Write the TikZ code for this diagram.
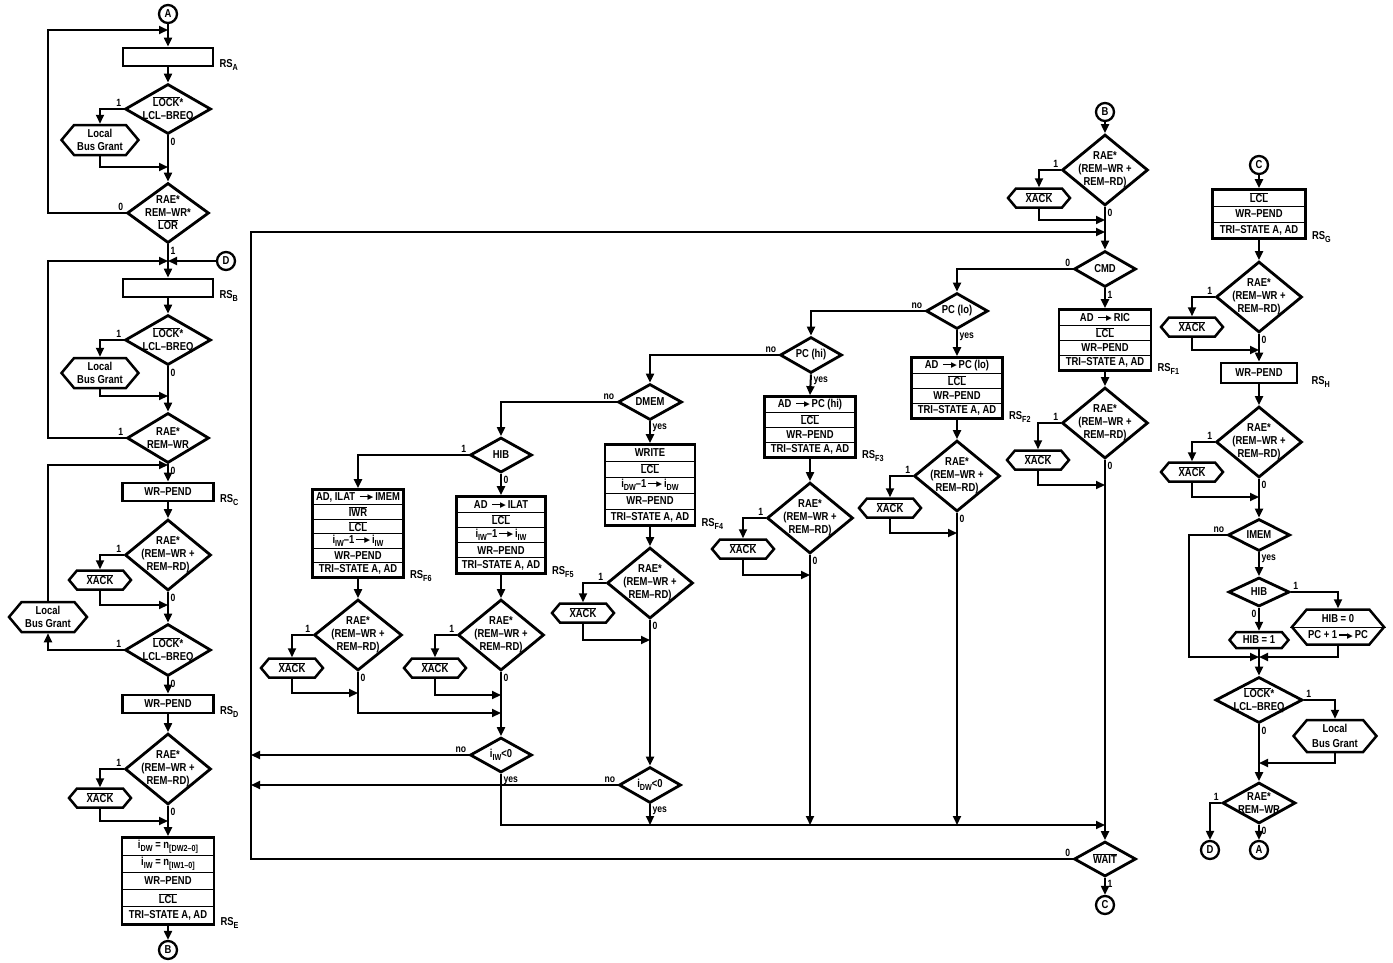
\documentclass[tikz,border=0pt]{standalone}
\usepackage{fontspec}
\setmainfont{Liberation Sans}[FakeStretch=0.82]
\newfontfamily\symfont{DejaVu Sans}
\usetikzlibrary{arrows.meta, positioning, shapes.geometric, shapes.symbols, fit}

\newcommand\ovl[1]{$\overline{\mbox{#1}}$}
\newcommand\sbs[1]{\raisebox{-2.8pt}{\fontsize{8.8}{9}\selectfont #1}}
\newcommand\goesto{\,\raisebox{3.4pt}{\rule{10pt}{1.2pt}}\kern-2pt\raisebox{0.8pt}{\symfont\fontsize{7.5}{7.5}\selectfont ▶}\,}

\begin{document}
\begin{tikzpicture}[
  x=1pt, y=-1pt,
  every node/.style = {font=\bfseries\fontsize{11.5}{13}\selectfont},
  rsbox/.style = {draw, line width=2.8pt, minimum height=18pt, inner sep=0pt},
  row/.style   = {draw, line width=0.9pt, inner sep=1pt, minimum height=#1},
  frame/.style = {draw, line width=2.8pt, inner sep=0pt},
  dec/.style   = {diamond, draw, line width=2.8pt, inner sep=0pt},
  dtxt/.style  = {align=center, inner sep=0pt},
  rae/.style   = {dec, minimum width=86pt, minimum height=71pt,
                  label={[dtxt]center:RAE*\\(REM--WR +\\REM--RD)}},
  lockd/.style = {dec, minimum width=86pt, minimum height=50pt,
                  label={[dtxt]center:\ovl{LOCK}*\\LCL--BREQ}},
  rwd/.style   = {dec, minimum width=82pt, minimum height=50pt,
                  label={[dtxt]center:RAE*\\REM--WR}},
  ask/.style   = {dec, minimum width=62pt, minimum height=36pt,
                  label={[dtxt]center:#1}},
  hexa/.style  = {signal, signal to=east and west, signal pointer angle=100,
                  draw, line width=2.5pt, inner sep=0pt, align=center},
  xack/.style  = {hexa, minimum width=62pt, minimum height=19pt},
  lbgs/.style  = {hexa, minimum width=77pt, minimum height=30pt},
  conn/.style  = {circle, draw, line width=2.3pt, minimum size=18pt, inner sep=0pt},
  arrow/.style = {-{Triangle[length=9pt, width=8pt]}, line width=2pt},
  link/.style  = {line width=2pt},
  lbl/.style   = {font=\bfseries\fontsize{10.5}{10.5}\selectfont, inner sep=1.5pt},
  rs/.style    = {anchor=base west, inner sep=0pt},
]
\useasboundingbox (0,0) rectangle (1393,962);

% left column: RS_A .. RS_E
\node[conn] (A1) at (168,14) {A};
\coordinate (j0) at (168,30);
\node[rsbox, minimum width=90pt] (rsa) at (168,57) {};
\node[rs] (rsa-l) at ([xshift=5pt]rsa.south east) {RS\sbs{A}};
\node[lockd] (lk1) at (168,109) {};
\node[lbgs] (lbg1) at (100,140) {Local\\Bus Grant};
\coordinate (j1) at (168,167);
\node[dec, minimum width=82pt, minimum height=60pt,
      label={[dtxt]center:RAE*\\REM--WR*\\\ovl{LOR}}] (rw1) at (168,213) {};
\coordinate (j2) at (168,261);
\node[conn] (D1) at (226,261) {D};
\node[rsbox, minimum width=90pt] (rsb) at (168,288) {};
\node[rs] (rsb-l) at ([xshift=5pt]rsb.south east) {RS\sbs{B}};
\node[lockd] (lk2) at (168,340) {};
\node[lbgs] (lbg2) at (100,373) {Local\\Bus Grant};
\coordinate (j3) at (168,396);
\node[rwd] (rw2) at (168,438) {};
\coordinate (j4) at (168,465);
\node[rsbox, minimum width=91pt] (rsc) at (168,492) {WR--PEND};
\node[rs] (rsc-l) at ([xshift=5pt]rsc.south east) {RS\sbs{C}};
\node[rae] (rc) at (168,555) {};
\node[xack] (xc) at (100,580) {\ovl{XACK}};
\coordinate (j5) at (168,605);
\node[lockd, minimum height=52pt] (lk3) at (168,650) {};
\node[lbgs, minimum width=78pt] (lbg3) at (48,617) {Local\\Bus Grant};
\node[rsbox, minimum width=91pt] (rsd) at (168,704) {WR--PEND};
\node[rs] (rsd-l) at ([xshift=5pt]rsd.south east) {RS\sbs{D}};
\node[rae] (rd) at (168,769) {};
\node[xack] (xd) at (100,798) {\ovl{XACK}};
\coordinate (j6) at (168,821);
\foreach \t [count=\i] in {i\sbs{DW} = n\sbs{[DW2--0]}, i\sbs{IW} = n\sbs{[IW1--0]},
    WR--PEND, \ovl{LCL}, {TRI--STATE A, AD}}
  \node[row=17.2pt, minimum width=91pt] (e\i) at (168,829.4+17.2*\i) {\t};
\node[frame, fit=(e1)(e5)] (rse) {};
\node[rs] (rse-l) at ([xshift=5pt]rse.south east) {RS\sbs{E}};
\node[conn] (B1) at (168,950) {B};

\draw[arrow] (A1) -- (rsa);
\draw[arrow] (rsa) -- (lk1);
\draw[arrow] (lk1.west) -| node[lbl, pos=0, above left] {1} (lbg1.north);
\draw[arrow] (lbg1.south) |- (j1);
\draw[arrow] (lk1.south) -- node[lbl, pos=0, below right] {0} (rw1.north);
\draw[arrow] (rw1.west) -| node[lbl, pos=0, above left] {0} (48,30) -- (j0);
\draw[arrow] (rw1.south) -- node[lbl, pos=0, below right] {1} (rsb.north);
\draw[arrow] (D1) -- (j2);
\draw[arrow] (rsb) -- (lk2);
\draw[arrow] (lk2.west) -| node[lbl, pos=0, above left] {1} (lbg2.north);
\draw[arrow] (lbg2.south) |- (j3);
\draw[arrow] (lk2.south) -- node[lbl, pos=0, below right] {0} (rw2.north);
\draw[arrow] (rw2.west) -| node[lbl, pos=0, above left] {1} (48,261) -- (j2);
\draw[arrow] (rw2.south) -- node[lbl, pos=0, below right] {0} (rsc.north);
\draw[arrow] (rsc) -- (rc);
\draw[arrow] (rc.west) -| node[lbl, pos=0, above left] {1} (xc.north);
\draw[arrow] (xc.south) |- (j5);
\draw[arrow] (rc.south) -- node[lbl, pos=0, below right] {0} (lk3.north);
\draw[arrow] (lk3.west) -| node[lbl, pos=0, above left] {1} (lbg3.south);
\draw[arrow] (lbg3.north) |- (j4);
\draw[arrow] (lk3.south) -- node[lbl, pos=0, below right] {0} (rsd.north);
\draw[arrow] (rsd) -- (rd);
\draw[arrow] (rd.west) -| node[lbl, pos=0, above left] {1} (xd.north);
\draw[arrow] (xd.south) |- (j6);
\draw[arrow] (rd.south) -- node[lbl, pos=0, below right] {0} (rse.north);
\draw[arrow] (rse) -- (B1);

% B column: CMD and RS_F1
\node[conn] (B2) at (1105,112) {B};
\node[rae] (rb) at (1105,170) {};
\node[xack] (xb) at (1039,198) {\ovl{XACK}};
\coordinate (j7) at (1105,220);
\coordinate (j8) at (1105,232);
\node[ask=CMD] (cmd) at (1105,269) {};
\foreach \t [count=\i] in {AD \goesto RIC, \ovl{LCL}, WR--PEND, {TRI--STATE A, AD}}
  \node[row=15pt, minimum width=91pt] (fa\i) at (1105,302.5+15*\i) {\t};
\node[frame, fit=(fa1)(fa4)] (rf1) {};
\node[rs] (rf1-l) at ([xshift=5pt]rf1.south east) {RS\sbs{F1}};
\node[rae] (rf1d) at (1105,423) {};
\node[xack] (xf1) at (1038,460) {\ovl{XACK}};
\coordinate (j9) at (1105,485);
\coordinate (j10) at (1105,825);
\node[ask=\ovl{WAIT}, minimum height=35pt] (wait) at (1105,859) {};
\node[conn] (C2) at (1105,905) {C};

% PC(lo): RS_F2
\node[ask=PC (lo)] (pclo) at (957,311) {};
\foreach \t [count=\i] in {AD \goesto PC (lo), \ovl{LCL}, WR--PEND, {TRI--STATE A, AD}}
  \node[row=15pt, minimum width=90pt] (fb\i) at (957,350.5+15*\i) {\t};
\node[frame, fit=(fb1)(fb4)] (rf2) {};
\node[rs] (rf2-l) at ([xshift=5pt]rf2.south east) {RS\sbs{F2}};
\node[rae] (rf2d) at (957,476) {};
\node[xack] (xf2) at (890,508) {\ovl{XACK}};
\coordinate (j11) at (957,533);
\coordinate (k2) at (957,825);

% PC(hi): RS_F3
\node[ask=PC (hi)] (pchi) at (811,355) {};
\foreach \t [count=\i] in {AD \goesto PC (hi), \ovl{LCL}, WR--PEND, {TRI--STATE A, AD}}
  \node[row=15pt, minimum width=90pt] (fc\i) at (810,389.5+15*\i) {\t};
\node[frame, fit=(fc1)(fc4)] (rf3) {};
\node[rs] (rf3-l) at ([xshift=5pt]rf3.south east) {RS\sbs{F3}};
\node[rae] (rf3d) at (810,518) {};
\node[xack] (xf3) at (743,549) {\ovl{XACK}};
\coordinate (j12) at (810,575);
\coordinate (k3) at (810,825);

% DMEM: RS_F4
\node[ask=DMEM, minimum width=64pt] (dmem) at (650,402) {};
\foreach \t [count=\i] in {WRITE, \ovl{LCL}, i\sbs{DW}--1\goesto i\sbs{DW}, WR--PEND, {TRI--STATE A, AD}}
  \node[row=16pt, minimum width=89pt] (fd\i) at (650,437+16*\i) {\t};
\node[frame, fit=(fd1)(fd5)] (rf4) {};
\node[rs] (rf4-l) at ([xshift=5pt]rf4.south east) {RS\sbs{F4}};
\node[rae] (rf4d) at (650,583) {};
\node[xack] (xf4) at (583,613) {\ovl{XACK}};
\coordinate (j13) at (650,640);
\node[ask=i\sbs{DW}<0] (idw) at (650,785) {};
\coordinate (k4) at (650,825);
\coordinate (k6) at (251,785);

% HIB: RS_F5 and RS_F6
\node[ask=HIB, minimum height=35pt] (hib) at (501,455) {};
\foreach \t [count=\i] in {AD \goesto ILAT, \ovl{LCL}, i\sbs{IW}--1\goesto i\sbs{IW}, WR--PEND, {TRI--STATE A, AD}}
  \node[row=15.2pt, minimum width=88pt] (fe\i) at (501,489.4+15.2*\i) {\t};
\node[frame, fit=(fe1)(fe5)] (rf5) {};
\node[rs] (rf5-l) at ([xshift=5pt]rf5.south east) {RS\sbs{F5}};
\foreach \t [count=\i] in {{AD, ILAT \goesto IMEM}, \ovl{IWR}, \ovl{LCL}, i\sbs{IW}--1\goesto i\sbs{IW}, WR--PEND, {TRI--STATE A, AD}}
  \node[row=14.5pt, minimum width=90pt] (ff\i) at (358,482.75+14.5*\i) {\t};
\node[frame, fit=(ff1)(ff6)] (rf6) {};
\node[rs] (rf6-l) at ([xshift=5pt]rf6.south east) {RS\sbs{F6}};
\node[rae, minimum width=88pt] (rf6d) at (358,635) {};
\node[xack] (xf6) at (292,668) {\ovl{XACK}};
\coordinate (j14) at (358,693);
\node[rae] (rf5d) at (501,635) {};
\node[xack] (xf5) at (435,668) {\ovl{XACK}};
\coordinate (j15) at (501,695);
\coordinate (j16) at (501,713);
\node[ask=i\sbs{IW}<0, minimum height=35pt] (iiw) at (501,755) {};
\coordinate (k5) at (251,755);

\draw[arrow] (B2) -- (rb);
\draw[arrow] (rb.west) -| node[lbl, pos=0, above left] {1} (xb.north);
\draw[arrow] (xb.south) |- (j7);
\draw[arrow] (rb.south) -- node[lbl, pos=0, below right] {0} (cmd.north);
\draw[arrow] (cmd.west) -| node[lbl, pos=0, above left] {0} (pclo.north);
\draw[arrow] (cmd.south) -- node[lbl, pos=0, below right] {1} (rf1.north);
\draw[arrow] (rf1) -- (rf1d);
\draw[arrow] (rf1d.west) -| node[lbl, pos=0, above left] {1} (xf1.north);
\draw[arrow] (xf1.south) |- (j9);
\draw[arrow] (rf1d.south) -- node[lbl, pos=0, below right] {0} (wait.north);
\draw[arrow] (wait.south) -- node[lbl, pos=0, below right] {1} (C2);
\draw[arrow] (wait.west) -| node[lbl, pos=0, above left] {0} (251,232) -- (j8);

\draw[arrow] (pclo.west) -| node[lbl, pos=0, above left] {no} (pchi.north);
\draw[arrow] (pclo.south) -- node[lbl, pos=0, below right] {yes} (rf2.north);
\draw[arrow] (rf2) -- (rf2d);
\draw[arrow] (rf2d.west) -| node[lbl, pos=0, above left] {1} (xf2.north);
\draw[arrow] (xf2.south) |- (j11);
\draw[arrow] (rf2d.south) -- node[lbl, pos=0, below right] {0} (k2);

\draw[arrow] (pchi.west) -| node[lbl, pos=0, above left] {no} (dmem.north);
\draw[arrow] (pchi.south) -- node[lbl, pos=0, below right] {yes} (rf3.north);
\draw[arrow] (rf3) -- (rf3d);
\draw[arrow] (rf3d.west) -| node[lbl, pos=0, above left] {1} (xf3.north);
\draw[arrow] (xf3.south) |- (j12);
\draw[arrow] (rf3d.south) -- node[lbl, pos=0, below right] {0} (k3);

\draw[arrow] (dmem.west) -| node[lbl, pos=0, above left] {no} (hib.north);
\draw[arrow] (dmem.south) -- node[lbl, pos=0, below right] {yes} (rf4.north);
\draw[arrow] (rf4) -- (rf4d);
\draw[arrow] (rf4d.west) -| node[lbl, pos=0, above left] {1} (xf4.north);
\draw[arrow] (xf4.south) |- (j13);
\draw[arrow] (rf4d.south) -- node[lbl, pos=0, below right] {0} (idw.north);
\draw[arrow] (idw.west) -- node[lbl, pos=0, above left] {no} (k6);
\draw[arrow] (idw.south) -- node[lbl, pos=0, below right] {yes} (k4);

\draw[arrow] (hib.west) -| node[lbl, pos=0, above left] {1} (rf6.north);
\draw[arrow] (hib.south) -- node[lbl, pos=0, below right] {0} (rf5.north);
\draw[arrow] (rf6) -- (rf6d);
\draw[arrow] (rf6d.west) -| node[lbl, pos=0, above left] {1} (xf6.north);
\draw[arrow] (xf6.south) |- (j14);
\draw[arrow] (rf6d.south) |- node[lbl, pos=0, below right] {0} (j16);
\draw[arrow] (rf5) -- (rf5d);
\draw[arrow] (rf5d.west) -| node[lbl, pos=0, above left] {1} (xf5.north);
\draw[arrow] (xf5.south) |- (j15);
\draw[arrow] (rf5d.south) -- node[lbl, pos=0, below right] {0} (iiw.north);
\draw[arrow] (iiw.west) -- node[lbl, pos=0, above left] {no} (k5);
\draw[arrow] (iiw.south) |- node[lbl, pos=0, below right] {yes} (j10);

% right column: RS_G, RS_H
\node[conn] (C3) at (1259,165) {C};
\foreach \t [count=\i] in {\ovl{LCL}, WR--PEND, {TRI--STATE A, AD}}
  \node[row=16pt, minimum width=92pt] (fg\i) at (1259,182+16*\i) {\t};
\node[frame, fit=(fg1)(fg3)] (rg) {};
\node[rs] (rg-l) at ([xshift=5pt]rg.south east) {RS\sbs{G}};
\node[rae] (rgd) at (1259,297) {};
\node[xack] (xg) at (1192,327) {\ovl{XACK}};
\coordinate (j17) at (1259,350);
\node[rsbox, minimum width=76pt, minimum height=20pt] (rsh) at (1259,373) {WR--PEND};
\node[rs] (rsh-l) at ([xshift=13pt]rsh.south east) {RS\sbs{H}};
\node[rae] (rhd) at (1259,442) {};
\node[xack] (xh) at (1192,472) {\ovl{XACK}};
\coordinate (j18) at (1259,497);
\node[ask=IMEM, minimum height=32pt] (imem) at (1259,535) {};
\node[ask=HIB, minimum width=61pt, minimum height=29pt] (hib2) at (1259,592) {};
\node[hexa, minimum width=59pt, minimum height=16pt] (hib1) at (1259,640) {HIB = 1};
\node[hexa, minimum width=92pt, minimum height=35pt] (hx) at (1338,627) {HIB = 0\\[3pt]PC + 1\goesto PC};
\draw[line width=1pt] (hx.west) -- (hx.east);
\coordinate (j19) at (1259,657);
\node[lockd, minimum width=87pt, minimum height=46pt] (lk4) at (1259,700) {};
\node[lbgs, minimum width=83pt, minimum height=32pt] (lbg4) at (1335,736) {Local\\[2pt]Bus Grant};
\coordinate (j20) at (1259,763);
\node[dec, minimum width=73pt, minimum height=41pt,
      label={[dtxt]center:RAE*\\REM--WR}] (rw3) at (1259,803) {};
\node[conn] (D2) at (1210,850) {D};
\node[conn] (A2) at (1259,850) {A};

\draw[arrow] (C3) -- (rg);
\draw[arrow] (rg) -- (rgd);
\draw[arrow] (rgd.west) -| node[lbl, pos=0, above left] {1} (xg.north);
\draw[arrow] (xg.south) |- (j17);
\draw[arrow] (rgd.south) -- node[lbl, pos=0, below right] {0} (rsh.north);
\draw[arrow] (rsh) -- (rhd);
\draw[arrow] (rhd.west) -| node[lbl, pos=0, above left] {1} (xh.north);
\draw[arrow] (xh.south) |- (j18);
\draw[arrow] (rhd.south) -- node[lbl, pos=0, below right] {0} (imem.north);
\draw[arrow] (imem.west) -| node[lbl, pos=0, above left] {no} (1189,657) -- (j19);
\draw[arrow] (imem.south) -- node[lbl, pos=0, below right] {yes} (hib2.north);
\draw[arrow] (hib2.east) -| node[lbl, pos=0, above right] {1} (hx.north);
\draw[arrow] (hib2.south) -- node[lbl, pos=0, below left] {0} (hib1.north);
\draw[arrow] (hx.south) |- (j19);
\draw[link] (hib1.south) -- (j19);
\draw[arrow] (j19) -- (lk4.north);
\draw[arrow] (lk4.east) -| node[lbl, pos=0, above right] {1} (lbg4.north);
\draw[arrow] (lbg4.south) |- (j20);
\draw[arrow] (lk4.south) -- node[lbl, pos=0, below right] {0} (rw3.north);
\draw[arrow] (rw3.west) -| node[lbl, pos=0, above left] {1} (D2.north);
\draw[arrow] (rw3.south) -- node[lbl, pos=0, below right] {0} (A2.north);

\end{tikzpicture}
\end{document}
